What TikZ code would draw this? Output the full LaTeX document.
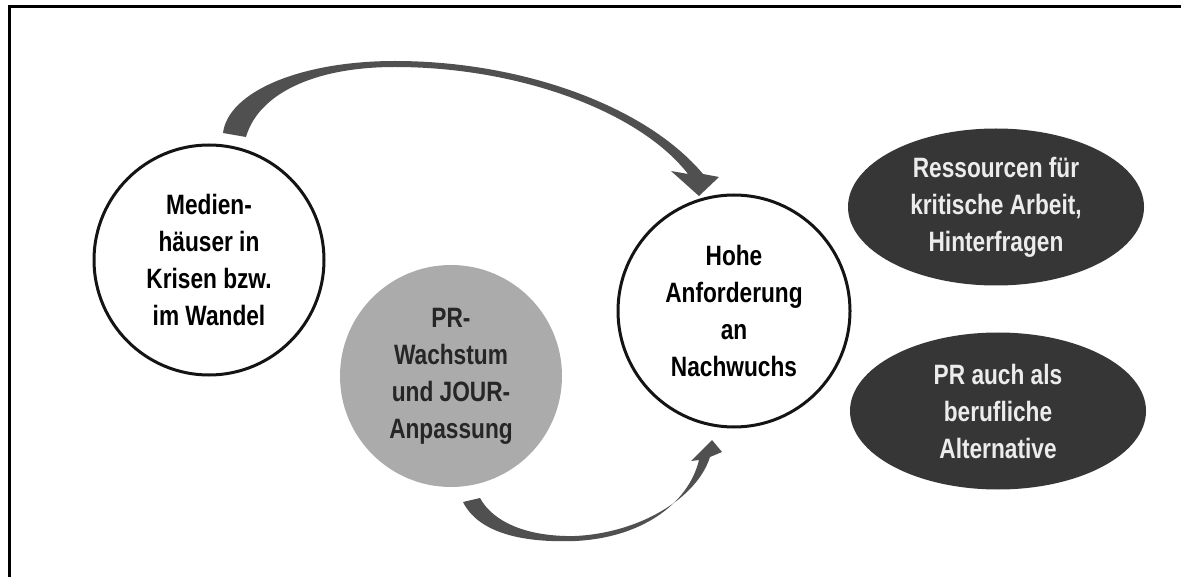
\documentclass[tikz,border=0pt]{standalone}
\usepackage{fontspec}
\setmainfont{Liberation Sans}[FakeStretch=0.81]
\usetikzlibrary{shapes.geometric}
\definecolor{arrowgray}{HTML}{505050}
\definecolor{darkfill}{HTML}{363636}
\definecolor{midgray}{HTML}{ABABAB}
\definecolor{lighttext}{HTML}{ECECEC}
\tikzset{
  lbl/.style={align=center,font=\bfseries\fontsize{28}{37}\selectfont},
  whitecirc/.style={circle,draw=black!92,line width=3pt,fill=white,minimum size=#1,inner sep=0pt,lbl},
  graycirc/.style={circle,fill=midgray,minimum size=#1,inner sep=0pt,lbl,text=black!85},
  darkell/.style={ellipse,fill=darkfill,minimum width=296pt,minimum height=157pt,inner sep=0pt,lbl,text=lighttext},
  bigarrow/.style={fill=arrowgray,draw=none},
  frameline/.style={line width=3pt,black}
}
\begin{document}
\begin{tikzpicture}[x=1pt,y=-1pt]
\useasboundingbox (0,0) rectangle (1181,577);
% frame
\coordinate (fA) at (9,577);
\coordinate (fB) at (9,7);
\coordinate (fC) at (1181,7);
\draw[frameline] (fA) -- (fB) -- (fC);

% top arrow
\fill[bigarrow] (223,133) .. controls (228,92) and (300,61) .. (395,61)
  .. controls (520,61) and (645,105) .. (703,174)
  -- (719,177) -- (699,196) -- (671,171) -- (688,174)
  .. controls (640,112) and (520,67) .. (395,67)
  .. controls (312,67) and (258,95) .. (246,137) -- cycle;

% bottom arrow
\fill[bigarrow] (463,502) .. controls (478,532) and (520,543) .. (575,541)
  .. controls (640,538) and (688,505) .. (699,460)
  -- (691,461) -- (712,440) -- (722,452) -- (710,457)
  .. controls (697,498) and (640,533) .. (575,536)
  .. controls (527,537) and (493,522) .. (480,498) -- cycle;

% nodes
\node[whitecirc=230pt] (medien) at (209,260) {Medien-\\häuser in\\Krisen bzw.\\im Wandel};
\node[graycirc=222pt] (pr) at (451,376) {PR-\\Wachstum\\und JOUR-\\Anpassung};
\node[whitecirc=232pt] (hohe) at (734,311) {Hohe\\Anforderung\\an\\Nachwuchs};
\node[darkell] (ress) at (996,207) {Ressourcen für\\kritische Arbeit,\\Hinterfragen};
\node[darkell] (alt) at (998,411) {PR auch als\\berufliche\\Alternative};
\end{tikzpicture}
\end{document}
